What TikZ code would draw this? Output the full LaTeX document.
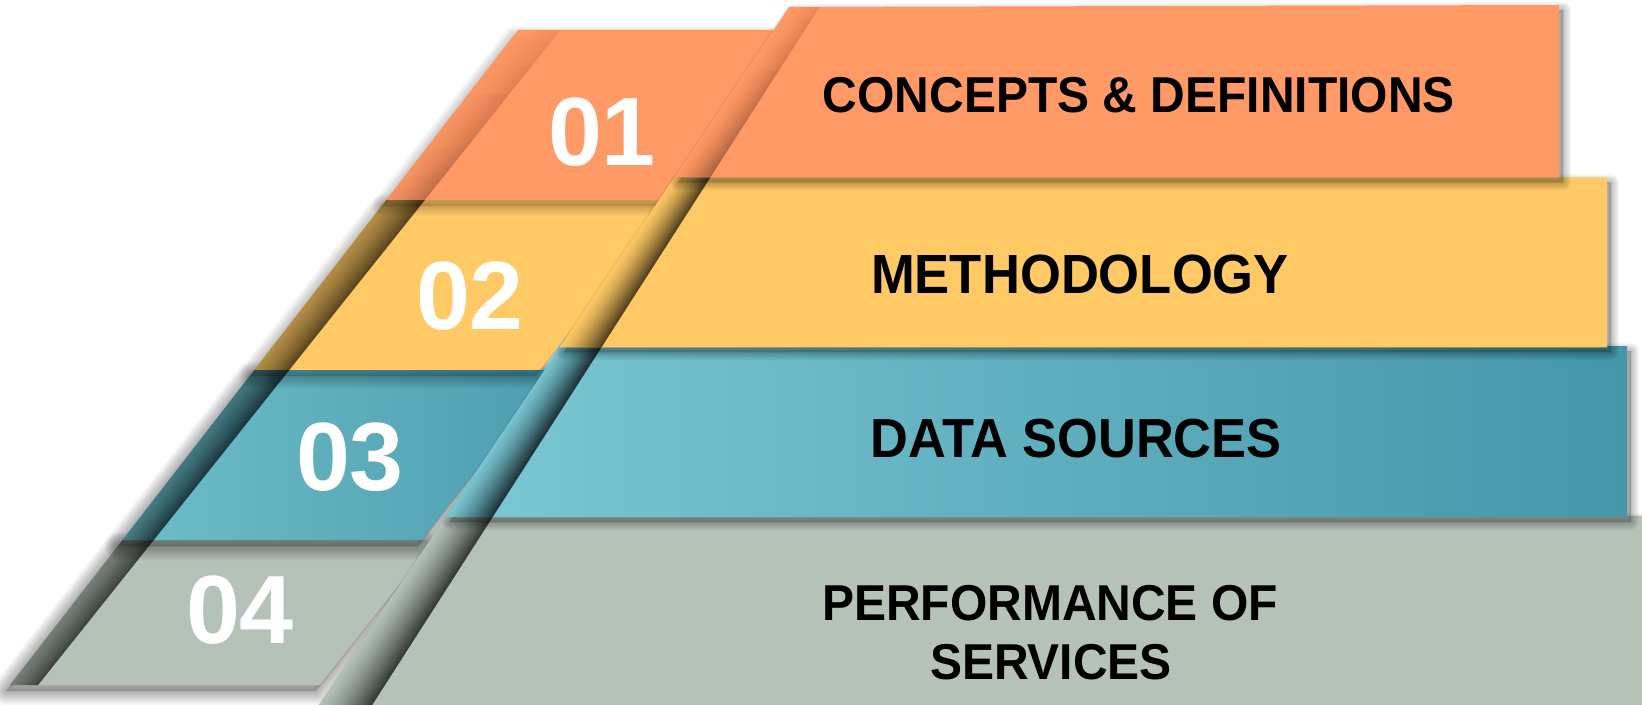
\documentclass[tikz,border=0pt]{standalone}
\usepackage{fontspec}
\usepackage{graphicx}
\setmainfont{Liberation Sans}
\usetikzlibrary{fadings}
\definecolor{orng}{HTML}{FF9966}
\definecolor{ylw}{HTML}{FFCA66}
\definecolor{tealL}{HTML}{7CC8D4}
\definecolor{tealR}{HTML}{4496A9}
\definecolor{tealTL}{HTML}{6DBDC9}
\definecolor{tealTR}{HTML}{4E9EAF}
\definecolor{gry}{HTML}{B5C2B8}
\tikzfading[name=fadedown, top color=transparent!80, bottom color=transparent!0]
% soft drop shadow: #1 shift, #2 fill opacity, #3 stroke opacity, #4 max blur width, #5 path
\newcommand\softshadow[5]{%
  \begin{scope}[shift={#1}]
    \fill[black,fill opacity=#2] #5;
    \foreach \w in {2,4,...,#4}{\draw[black,draw opacity=#3,line width=\w*0.5pt,line join=round] #5;}
  \end{scope}}
% fold band: #1 xTL #2 xTR #3 yT #4 xBL #5 xBR #6 yB #7 o0 #8 o1 #9 options
\newcommand\bandfill[9]{%
  \foreach \k in {0,...,15}{%
    \pgfmathsetmacro\tk{\k/16}%
    \pgfmathsetmacro\On{#7+(#8-#7)*((\k+1)/16)*sqrt((\k+1)/16)}%
    \pgfmathsetmacro\Op{ifthenelse(\k==0,0,#7+(#8-#7)*\tk*sqrt(\tk))}%
    \pgfmathsetmacro\al{1-(1-\On)/(1-\Op)}%
    \fill[black,fill opacity=\al,#9] ({#1+(#2-#1)*\tk},#3) -- (#2,#3) -- (#5,#6) -- ({#4+(#5-#4)*\tk},#6) -- cycle;
  }}
\newcommand\vst[1]{\scalebox{1}[1.05]{#1}}
\begin{document}
\begin{tikzpicture}[x=0.5pt,y=-0.5pt,
  lbl/.style={inner sep=0pt,anchor=base,text=black},
  num/.style={inner sep=0pt,anchor=base,text=white,font=\fontsize{48.5}{50}\selectfont\bfseries}]
\useasboundingbox (0,0) rectangle (1642,705);
\clip (0,0) rectangle (1642,705);
\fill[white] (0,0) rectangle (1642,705);
% ---------- tabs (bottom to top) ----------
\softshadow{(-4,6)}{0.18}{0.025}{28}{(122.5,540) -- (434.6,540) -- (320,685) -- (10.0,685) -- cycle}
\fill[gry] (122.5,540) -- (434.6,540) -- (320,685) -- (10.0,685) -- cycle;
\bandfill{122.5}{153.7}{540}{10.0}{38.0}{685}{0.35}{0.62}{}
\softshadow{(-4,6)}{0.18}{0.025}{28}{(254.3,370) -- (554.6,370) -- (422,540) -- (122.5,540) -- cycle}
\shade[left color=tealTL,right color=tealTR] (254.3,370) -- (554.6,370) -- (422,540) -- (122.5,540) -- cycle;
\bandfill{254.3}{289.2}{370}{122.5}{153.7}{540}{0.35}{0.65}{}
\softshadow{(-4,6)}{0.15}{0.02}{24}{(386.2,200) -- (672.6,200) -- (540,370) -- (254.3,370) -- cycle}
\fill[ylw] (386.2,200) -- (672.6,200) -- (540,370) -- (254.3,370) -- cycle;
\bandfill{386.2}{424.8}{200}{254.3}{289.2}{370}{0.3}{0.62}{}
\softshadow{(-4,6)}{0.12}{0.018}{20}{(518.0,30) -- (797.6,30) -- (665,200) -- (386.2,200) -- cycle}
\fill[orng] (518.0,30) -- (797.6,30) -- (665,200) -- (386.2,200) -- cycle;
\bandfill{518.0}{560.4}{30}{386.2}{424.8}{200}{0.04}{0.22}{path fading=fadedown}
% ---------- strips (bottom to top) ----------
\softshadow{(4,5)}{0.2}{0.03}{16}{(445.5,517) -- (1660,516) -- (1660,720) -- (308.8,720) -- cycle}
\fill[gry] (445.5,517) -- (1660,516) -- (1660,720) -- (308.8,720) -- cycle;
\bandfill{445.5}{492.6}{517}{308.8}{362.5}{720}{0}{0.66}{}
\softshadow{(4,5)}{0.2}{0.03}{16}{(559.7,347.5) -- (1627,346) -- (1627,517) -- (445.5,517) -- cycle}
\shade[left color=tealL,right color=tealR] (559.7,347.5) -- (1627,346) -- (1627,517) -- (445.5,517) -- cycle;
\bandfill{559.7}{601.3}{347.5}{445.5}{492.6}{517}{0}{0.70}{}
\softshadow{(4,5)}{0.2}{0.03}{16}{(674.2,177.5) -- (1607,177.5) -- (1607,347.5) -- (559.7,347.5) -- cycle}
\fill[ylw] (674.2,177.5) -- (1607,177.5) -- (1607,347.5) -- (559.7,347.5) -- cycle;
\bandfill{674.2}{710.2}{177.5}{559.7}{601.3}{347.5}{0}{0.64}{}
\softshadow{(4,5)}{0.2}{0.03}{16}{(789.1,7) -- (1559,5) -- (1559,177.5) -- (674.2,177.5) -- cycle}
\fill[orng] (789.1,7) -- (1559,5) -- (1559,177.5) -- (674.2,177.5) -- cycle;
\bandfill{789.1}{819.5}{7}{674.2}{710.2}{177.5}{0}{0.3}{path fading=fadedown}
% ---------- numbers ----------
\node[num] (n1) at (602,166) {01};
\node[num] (n2) at (470,329) {02};
\node[num] (n3) at (350,490) {03};
\node[num] (n4) at (240,643) {04};
% ---------- labels ----------
\node[lbl,font=\fontsize{24}{28}\selectfont\bfseries] (l1) at (1139,112.5) {\vst{CONCEPTS \& DEFINITIONS}};
\node[lbl,font=\fontsize{26.3}{30}\selectfont\bfseries] (l2) at (1080,294) {\vst{METHODOLOGY}};
\node[lbl,font=\fontsize{26.2}{30}\selectfont\bfseries] (l3) at (1076,457) {\vst{DATA SOURCES}};
\node[lbl,font=\fontsize{24}{28}\selectfont\bfseries] (l4a) at (1050,620) {\vst{PERFORMANCE OF}};
\node[lbl,font=\fontsize{24}{28}\selectfont\bfseries] (l4b) at (1051,679) {\vst{SERVICES}};
\end{tikzpicture}
\end{document}
